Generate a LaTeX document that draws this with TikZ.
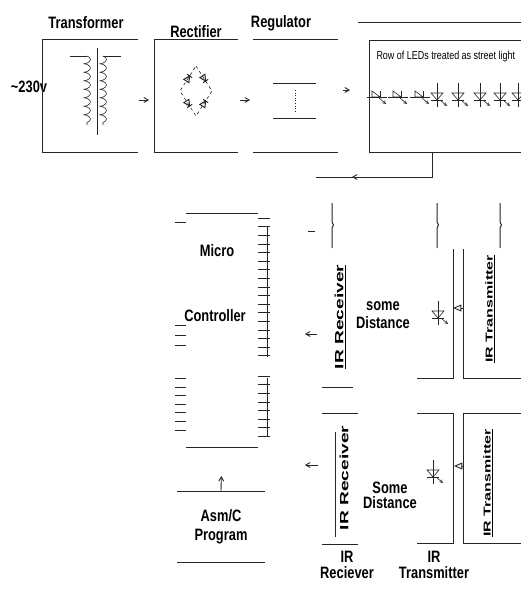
\documentclass[tikz,border=0pt]{standalone}
\usepackage{fontspec}
\setmainfont{Liberation Sans}[FakeStretch=0.78]
\newfontfamily\irfont{Liberation Sans}[FakeStretch=1.6]
\usetikzlibrary{decorations.pathmorphing}
\usetikzlibrary{arrows}
\usetikzlibrary{shapes.geometric,positioning}
\newcommand{\blkfont}{\fontsize{16.5}{16}\selectfont\bfseries}
\newcommand{\smfont}{\fontsize{11.5}{12}\selectfont}

\tikzset{
vled/.pic={
  \draw (0,-12) -- (0,12);
  \draw (-6,-2) -- (6,-2) -- (0,5) -- cycle;
  \draw (-6,5) -- (6,5);
  \draw[-stealth] (3,5) -- (10,11);
},
hled/.pic={
  \draw (-10,2) -- (10,2);
  \draw (-5,-4) -- (-5,2) -- (3,2) -- cycle;
  \draw (3,-4) -- (3,2);
  \draw[-stealth] (2,3) -- (9,9);
},
diode/.pic={
  \draw (-3,-3) -- (-3,3) -- (3,0) -- cycle;
  \draw (3,-3) -- (3,3);
}
}

\begin{document}
\begin{tikzpicture}[x=1pt,y=-1pt,line width=1pt,draw=black!85,>=angle 60]
\tikzstyle{blk}=[rectangle,draw=none,inner sep=0pt,outer sep=0pt]
\tikzstyle{lbl}=[inner sep=0pt,font=\blkfont,align=center]
\tikzstyle{irlbl}=[inner sep=0pt,rotate=90]
\tikzstyle{pin}=[line width=0.6pt]
\tikzstyle{part}=[line width=0.6pt]
\tikzstyle{flow}=[->,line width=0.9pt]

\fill[white] (0,0) rectangle (521,589);
\useasboundingbox (0,0) rectangle (521,589);

% supply chain
\node[blk,minimum width=96pt,minimum height=113pt] at (90,95.5) (trf) {};
\node[blk,minimum width=84pt,minimum height=113pt] at (196,95.5) (rect) {};
\node[blk,minimum width=85pt,minimum height=113pt] at (295.5,95.5) (reg) {};
\node[blk,minimum width=191pt,minimum height=112pt] at (464.5,96) (leds) {};

\node[lbl] at (86,23) (trflbl) {Transformer};
\node[lbl] at (196,32) (rectlbl) {Rectifier};
\node[lbl] at (281,23) (reglbl) {Regulator};
\node[lbl] at (29,87) (ac) {\textasciitilde230v};
\node[inner sep=0pt,font=\smfont,anchor=west] at (376,57) (ledlbl) {Row of LEDs treated as street light};

\draw (trf.north east) -- (trf.north west) -- (trf.south west) -- (trf.south east);
\draw (rect.north east) -- (rect.north west) -- (rect.south west) -- (rect.south east);
\draw (reg.north west) -- (reg.north east);
\draw (reg.south west) -- (reg.south east);
\draw (leds.north west) rectangle (leds.south east);
\draw (358,22) -- (560,22);

% transformer
\draw (97,48) -- (97,135);
\draw[part] (70,56) -- (87,56);
\draw[part] (121,56) -- (103,56);
\draw[part,decorate,decoration={coil,aspect=0.4,amplitude=3.5pt,segment length=8.5pt}] (87,56) -- (87,125);
\draw[part,decorate,decoration={coil,aspect=0.4,amplitude=3.5pt,segment length=8.5pt}] (103,56) -- (103,125);

% bridge
\draw[part,dashed] (196,66) -- (212,91) -- (196,116) -- (180,91) -- cycle;
\pic[rotate=57] at (188,78.5) {diode};
\pic[rotate=-57] at (204,78.5) {diode};
\pic[rotate=-57] at (188,103.5) {diode};
\pic[rotate=57] at (204,103.5) {diode};

% regulator
\draw (273,83) -- (316,83);
\draw (273,118) -- (316,118);
\draw[part,dotted] (295,90) -- (295,112);

% leds
\foreach \x in {377,398,420} \pic[part] at (\x,95) {hled};
\foreach \x in {437,458,480,500,518} \pic[part] at (\x,95) {vled};

\coordinate (ar1) at (139,100);
\coordinate (ar2) at (149,100);
\coordinate (ar3) at (240,100);
\coordinate (ar4) at (250,100);
\coordinate (ar5) at (343,90);
\coordinate (ar6) at (350,90);
\path[flow] (ar1) edge (ar2);
\path[flow] (ar3) edge (ar4);
\path[flow] (ar5) edge (ar6);

\coordinate (ledout) at (432,152);
\coordinate (rxin) at (316,177);
\coordinate (ar7) at (362,177);
\coordinate (ar8) at (352,177);
\draw (ledout) |- (rxin);
\path[flow] (ar7) edge (ar8);

% micro controller
\node[blk,minimum width=72pt,minimum height=234pt] at (222,330) (mcu) {};
\draw (mcu.north west) -- (mcu.north east);
\draw (mcu.south west) -- (mcu.south east);
\node[lbl] at (217,251) (mcu1) {Micro};
\node[lbl] at (215,316) (mcu2) {Controller};
\foreach \i in {0,...,16} \draw[pin] (258,{218+8.6*\i}) -- ++(12,0);
\foreach \i in {0,...,7} \draw[pin] (258,{376+8.6*\i}) -- ++(12,0);
\foreach \y in {222,325,335,345,378,387,395,404,412,421,430} \draw[pin] (175,\y) -- ++(11,0);
\draw[pin] (267,226) -- (267,357);
\draw[pin] (267,378) -- (267,436);

% program
\node[blk,minimum width=88pt,minimum height=71pt] at (221,526.5) (prog) {};
\draw (prog.north west) -- (prog.north east);
\draw (prog.south west) -- (prog.south east);
\node[lbl] at (221,527) (proglbl) {Asm/C\\[3pt]Program};
\path[flow] (prog.north) edge[shorten >=29pt] (mcu.south);

% upper receiver / transmitter
\node[irlbl,font=\irfont\bfseries\fontsize{12}{12}\selectfont] at (340,317) (rx1) {\underline{IR Receiver}};
\draw (332,203) -- (332,222) -- (333.5,225) -- (332,228) -- (332,248);
\draw (308,231) -- (315,231);
\draw (322,387) -- (353,387);
\coordinate (ar9) at (317,334);
\coordinate (ar10) at (305,334);
\path[flow] (ar9) edge (ar10);
\node[lbl] at (383,315) (dist1) {some\\[2pt]Distance};

\node[irlbl,font=\irfont\bfseries\fontsize{10}{10}\selectfont] at (490,309) (tx1) {\underline{IR Transmitter}};
\draw (437,203) -- (437,222) -- (438.5,225) -- (437,228) -- (437,248);
\draw (500,203) -- (500,222) -- (501.5,225) -- (500,228) -- (500,248);
\draw (417,378) -- (453,378) -- (453,249);
\draw (463,249) -- (463,378) -- (560,378);
\pic[part] at (438,313) {vled};
\coordinate (ar11) at (463,308);
\coordinate (ar12) at (453,308);
\path[-open triangle 45,line width=0.9pt] (ar11) edge (ar12);

% lower receiver / transmitter
\draw (322,413) -- (358,413);
\draw (322,544) -- (358,544);
\node[irlbl,font=\irfont\bfseries\fontsize{12}{12}\selectfont] at (344,478) (rx2) {IR Receiver};
\draw[part] (335,432) -- (335,537);
\coordinate (ar13) at (318,465);
\coordinate (ar14) at (305,465);
\path[flow] (ar13) edge (ar14);
\node[lbl] at (390,495) (dist2) {Some\\[-1pt]Distance};

\draw (417,413) -- (453,413) -- (453,543) -- (417,543);
\draw (560,413) -- (463,413) -- (463,543) -- (560,543);
\node[irlbl,font=\irfont\bfseries\fontsize{10}{10}\selectfont] at (488,483) (tx2) {\underline{IR Transmitter}};
\pic[part] at (433,472) {vled};
\coordinate (ar15) at (463,466);
\coordinate (ar16) at (454,466);
\path[-open triangle 45,line width=0.9pt] (ar15) edge (ar16);

\node[lbl] at (347,565) (rxlbl) {IR\\Reciever};
\node[lbl] at (434,565) (txlbl) {IR\\Transmitter};
\end{tikzpicture}
\end{document}
